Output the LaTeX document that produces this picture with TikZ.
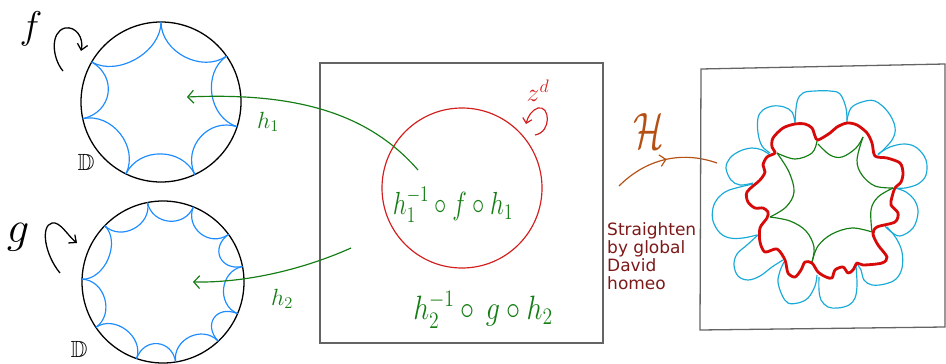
\RequirePackage{fix-cm}
\documentclass[tikz,border=0pt]{standalone}
\usepackage{amssymb}
\usepackage{fontspec}
\newfontfamily\notefont{DejaVu Sans}
\usetikzlibrary{arrows.meta,decorations.markings}
\definecolor{diskblue}{RGB}{30,140,255}
\definecolor{petalblue}{RGB}{25,170,215}
\definecolor{mapgreen}{RGB}{20,125,20}
\definecolor{circred}{RGB}{210,30,30}
\definecolor{boldred}{RGB}{215,10,10}
\definecolor{hbrown}{RGB}{180,80,20}
\definecolor{notered}{RGB}{125,25,25}
\definecolor{boxgray}{RGB}{100,100,100}
\begin{document}
\begin{tikzpicture}[x=0.03cm,y=-0.03cm,
  diskc/.style={circle, draw=black, line width=1.1pt, inner sep=0pt},
  cusparc/.style={draw=diskblue, line width=1pt},
  spin/.style={draw=black, line width=1.1pt, -{Straight Barb[length=5pt,width=9pt]}},
  maparrow/.style={draw=mapgreen, line width=1pt, -{Straight Barb[length=5pt,width=11pt]}},
  frame/.style={draw=boxgray, line width=1.1pt},
  petal/.style={draw=petalblue, line width=1pt, line join=round},
  innerarc/.style={draw=mapgreen, line width=1pt},
  greenlabel/.style={text=mapgreen, inner sep=0pt}]
\useasboundingbox (0,0) rectangle (946,364);

% ---------- left discs ----------
\node (D1) [diskc, minimum size=4.8cm] at (161,102) {};
\node (D2) [diskc, minimum size=4.86cm] at (163,282) {};
\begin{scope}[shift={(D1.center)}, yscale=-1]
  \foreach \a/\b in {90/35,35/-18,-18/-65,-65/-116,-116/-168,-168/-210,150/90}
    \draw[cusparc] (\a:80) .. controls (\a:50) and (\b:50) .. (\b:80);
\end{scope}
\begin{scope}[shift={(D2.center)}, yscale=-1]
  \foreach \a/\b in {101/68,68/36,36/11,11/-23,-23/-47,-47/-81,-81/-109,-109/-146,-146/-182,178/136,136/101}
    \draw[cusparc] (\a:81) .. controls (\a:58) and (\b:58) .. (\b:81);
\end{scope}

\node (fl) [font=\fontsize{33}{35}\selectfont] at (31,29) {$f$};
\node (gl) [font=\fontsize{38}{40}\selectfont] at (18,237) {$g$};
\node (Dl1) [font=\fontsize{20}{22}\selectfont] at (86,162) {$\mathbb{D}$};
\node (Dl2) [font=\fontsize{20}{22}\selectfont] at (79,349) {$\mathbb{D}$};
\coordinate (fs) at (63,71); \coordinate (fe) at (81,51);
\draw[spin] (fs) .. controls (52,58) and (50,32) .. (65,28) .. controls (76,26) and (84,38) .. (fe);
\coordinate (gs) at (60,273); \coordinate (ge) at (77,243);
\draw[spin] (gs) .. controls (45,255) and (40,226) .. (52,223) .. controls (60,221) and (68,236) .. (ge);

% ---------- middle box ----------
\node (B) [frame, minimum width=8.49cm, minimum height=8.4cm, inner sep=0pt] at (461.5,203) {};
\node (C) [circle, draw=circred, line width=1pt, minimum size=4.8cm, inner sep=0pt] at (462,188) {};
\node (T1) [greenlabel, font=\fontsize{21}{24}\selectfont] at (453,205) {\scalebox{1}[1.3]{$h_1^{-1}\circ f\circ h_1$}};
\node (T2) [greenlabel, font=\fontsize{24}{28}\selectfont] at (483,310) {\scalebox{1}[1.2]{$h_2^{-1}\circ\, g\circ h_2$}};
\node (zd) [text=circred, font=\fontsize{22}{24}\selectfont] at (538,91) {$z^d$};
\coordinate (zs) at (535,135); \coordinate (ze) at (526,124);
\draw[circred, line width=1pt, -{Straight Barb[length=4pt,width=8pt]}] (zs) .. controls (552,132) and (550,105) .. (538,108) .. controls (532,110) and (528,116) .. (ze);

% green maps
\coordinate (h1s) at (418,170); \coordinate (h1e) at (187,97);
\draw[maparrow] (h1s) .. controls (370,115) and (300,92) .. (h1e);
\coordinate (h2s) at (351,248); \coordinate (h2e) at (193,282);
\draw[maparrow] (h2s) .. controls (320,262) and (260,283) .. (h2e);
\node (L1) [greenlabel, font=\fontsize{20}{22}\selectfont] at (268,122) {$h_1$};
\node (L2) [greenlabel, font=\fontsize{20}{22}\selectfont] at (282,299) {$h_2$};

% ---------- H arrow and note ----------
\node (Hl) [text=hbrown, font=\fontsize{38}{40}\selectfont] at (649,131) {\scalebox{0.8}[1.15]{$\mathcal{H}$}};
\coordinate (Hs) at (619,186); \coordinate (He) at (717,163);
\draw[hbrown, line width=1pt, postaction={decorate},
  decoration={markings, mark=at position 0.52 with {\arrow{Straight Barb[length=5pt,width=10pt]}}}]
  (Hs) .. controls (645,160) and (680,150) .. (He);
\node (note) [anchor=north west, text=notered, font=\notefont\fontsize{14.5}{15.6}\selectfont, align=left, inner sep=0pt] at (607,222) {Straighten\\by global\\David\\homeo};

% ---------- right box ----------
\draw[frame] (701,69) -- (945,64) -- (945,327) -- (700,330) -- cycle;
% petals
\draw[petal] plot[smooth, tension=0.6] coordinates {(795,123)(797,102)(803,93)(815,91)(830,91)(840,94)(846,108)(847,122)};
\draw[petal] plot[smooth, tension=0.6] coordinates {(847,120)(851,108)(862,102)(875,101)(888,112)(895,127)(892,140)(878,155)};
\draw[petal] plot[smooth, tension=0.6] coordinates {(878,154)(890,147)(905,144)(917,148)(926,160)(926,175)(918,184)(905,188)(895,188)};
\draw[petal] plot[smooth, tension=0.6] coordinates {(895,188)(906,192)(915,201)(918,213)(913,228)(900,236)(890,231)(885,226)};
\draw[petal] plot[smooth, tension=0.6] coordinates {(887,227)(896,238)(902,252)(902,268)(896,279)(885,284)(872,285)(864,280)(861,270)(857,264)};
\draw[petal] plot[smooth, tension=0.6] coordinates {(856,266)(857,285)(855,298)(849,305)(838,308)(828,307)(821,300)(819,290)(819,277)};
\draw[petal] plot[smooth, tension=0.6] coordinates {(817,275)(815,286)(808,298)(798,303)(788,303)(782,295)(778,282)(780,271)(784,262)};
\draw[petal] plot[smooth, tension=0.6] coordinates {(783,260)(772,267)(760,276)(748,280)(738,276)(734,265)(737,254)(747,245)(758,235)};
\draw[petal] plot[smooth, tension=0.6] coordinates {(757,235)(743,238)(730,238)(720,233)(713,221)(713,208)(718,198)(727,191)(740,187)(753,184)};
\draw[petal] plot[smooth, tension=0.6] coordinates {(753,183)(740,185)(731,180)(726,168)(730,158)(740,151)(752,148)(762,150)(770,155)};
\draw[petal] plot[smooth, tension=0.6] coordinates {(770,153)(762,146)(758,133)(758,118)(763,110)(773,106)(784,107)(792,112)(795,122)};
% inner green arcs
\draw[innerarc] plot[smooth, tension=0.6] coordinates {(777,153)(795,159)(812,153)(817,141)};
\draw[innerarc] plot[smooth, tension=0.6] coordinates {(818,144)(830,155)(842,157)(856,148)(863,137)};
\draw[innerarc] plot[smooth, tension=0.6] coordinates {(863,137)(857,160)(862,175)(875,186)(893,188)};
\draw[innerarc] plot[smooth, tension=0.6] coordinates {(893,188)(878,197)(871,210)(872,232)};
\draw[innerarc] plot[smooth, tension=0.6] coordinates {(872,232)(852,228)(832,234)(818,246)(812,262)};
\draw[innerarc] plot[smooth, tension=0.6] coordinates {(812,262)(814,247)(806,231)(790,221)(770,217)};
\draw[innerarc] plot[smooth, tension=0.6] coordinates {(770,217)(786,207)(794,192)(789,172)(777,153)};
% bold red curve
\draw[boldred, line width=2.4pt, line join=round] plot[smooth cycle, tension=0.5] coordinates {
(773,138)(783,128)(795,124)(805,124)(812,128)(815,136)(818,140)(830,133)(837,127)(847,123)
(857,125)(867,133)(872,143)(875,156)(887,158)(900,163)(903,173)(901,182)(895,188)(892,197)
(891,205)(898,213)(895,222)(877,227)(873,234)(878,245)(887,257)(882,263)(863,265)(857,263)
(853,270)(848,273)(843,267)(835,270)(832,278)(826,277)(818,272)(812,263)(805,262)(801,270)
(795,277)(788,273)(785,260)(777,249)(765,252)(760,242)(760,228)(767,218)(768,212)(763,208)
(755,208)(748,202)(747,192)(760,180)(765,172)(763,165)(767,157)(775,153)(772,147)};
\end{tikzpicture}
\end{document}
